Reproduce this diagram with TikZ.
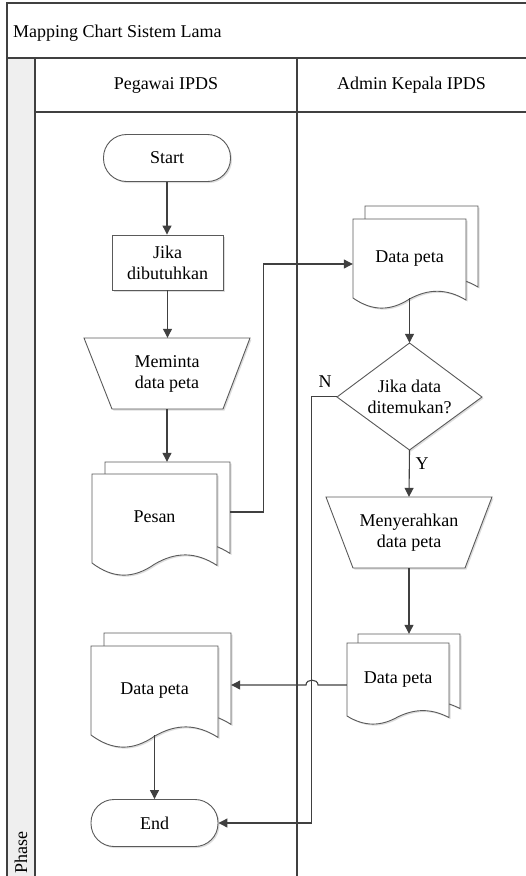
\documentclass[tikz,border=0pt]{standalone}
\usepackage{fontspec}
\setmainfont{Liberation Serif}
\usetikzlibrary{arrows.meta,shadows}
\definecolor{linec}{HTML}{404040}
\definecolor{shapec}{HTML}{5A5A5A}
\definecolor{phasec}{HTML}{EFEFEF}
% document shape path: x0, top, w, h, amplitude
\newcommand\docpath[5]{({#1},{#2+#4}) -- ({#1},{#2}) -- ({#1+#3},{#2}) -- ({#1+#3},{#2+#4+0.2*#5}) .. controls ({#1+0.83*#3},{#2+#4-0.95*#5}) and ({#1+0.67*#3},{#2+#4-0.95*#5}) .. ({#1+0.5*#3},{#2+#4+0.1*#5}) .. controls ({#1+0.33*#3},{#2+#4+1.33*#5}) and ({#1+0.17*#3},{#2+#4+1.33*#5}) .. ({#1},{#2+#4}) -- cycle}
% name, x0, top, w, h, back shift x, back shift y, amplitude, text
\newcommand\docu[9]{%
  \path[shp] \docpath{#2+#6}{#3-#7}{#4}{#5}{#8};
  \path[shp] \docpath{#2}{#3}{#4}{#5}{#8};
  \node[anch, minimum width=#4pt, minimum height=#5pt] (#1b) at ({#2+#6+#4/2},{#3-#7+#5/2}) {};
  \node[anch, minimum width=#4pt, minimum height=#5pt] (#1) at ({#2+#4/2},{#3+#5/2}) {\raisebox{4pt}{#9}};
}
\begin{document}
\begin{tikzpicture}[x=1pt,y=-1pt,
  every node/.style={font=\fontsize{18}{21}\selectfont, text=black},
  frame/.style={draw=linec, line width=1.1pt},
  shp/.style={draw=shapec, fill=white, line width=0.9pt,
    drop shadow={shadow xshift=1.5pt, shadow yshift=-1.5pt, opacity=.22, fill=black!60}},
  anch/.style={draw=none, inner sep=0pt, align=center},
  termbox/.style={shp, rounded corners=23pt, minimum width=127pt, minimum height=47pt, inner sep=0pt},
  procbox/.style={shp, rounded corners=0pt, minimum width=111pt, minimum height=55pt, inner sep=0pt, align=center},
  conn/.style={draw=linec, line width=1.1pt},
  arr/.style={conn, -{Triangle[length=9pt,width=9pt]}},
  lbl/.style={inner sep=0pt}
]
\useasboundingbox (0,0) rectangle (526,876);
% ---- frame / swimlanes ----
\fill[phasec] (7,58) rectangle (35,876);
\draw[frame] (7,876) -- (7,3) -- (526,3);
\draw[frame] (7,58) -- (526,58);
\draw[frame] (35,58) -- (35,876);
\draw[frame] (35,112) -- (526,112);
\draw[frame] (297,58) -- (297,876);
\node[lbl, anchor=base west] (title) at (13,37) {Mapping Chart Sistem Lama};
\node[lbl] (lane1) at (166,85) {Pegawai IPDS};
\node[lbl] (lane2) at (411.5,85) {Admin Kepala IPDS};
\node[lbl, rotate=90] (phase) at (21,852) {Phase};
% ---- left lane ----
\node[termbox] (start) at (167,158) {Start};
\node[procbox] (jika) at (167.5,262.5) {Jika\\dibutuhkan};
\path[shp] (84,338) -- (250,338) -- (223,409) -- (112,409) -- cycle;
\node[anch, minimum width=166pt, minimum height=71pt] (mem) at (167,373.5) {Meminta\\data peta};
\docu{pesan}{92}{474}{125}{89}{13}{12}{12}{Pesan}
\docu{dpl}{91}{646}{127}{89}{13}{13}{12}{Data peta}
\node[termbox] (end) at (154.5,823) {End};
% ---- right lane ----
\docu{dpt}{353}{219}{113}{79}{12}{13}{10}{Data peta}
\path[shp] (409.5,343) -- (482,397) -- (409.5,450) -- (337,397) -- cycle;
\node[anch, minimum width=145pt, minimum height=107pt] (dia) at (409.5,396.5) {Jika data\\ditemukan?};
\path[shp] (326,497) -- (492,497) -- (465,568) -- (353,568) -- cycle;
\node[anch, minimum width=166pt, minimum height=71pt] (meny) at (409,532.5) {Menyerahkan\\data peta};
\docu{dpr}{347}{643}{102}{73}{11}{9}{8}{Data peta}
% ---- connectors ----
\draw[arr] (start.south) -- (start.south |- jika.north);
\draw[arr] (jika.south) -- (jika.south |- mem.north);
\draw[arr] (mem.south) -- (mem.south |- pesanb.north);
\draw[arr] ([yshift=-5.5pt]pesanb.east) -- ++(33,0) |- ([yshift=-5.5pt]dpt.west);
\draw[arr] (dpt.south) -- (dia.north);
\draw[arr] (dia.south) -- (meny.north);
\draw[arr] (dia.west) -- ++(-25,0) |- (end.east);
\draw[arr] (meny.south) -- (meny.south |- dprb.north);
\draw[arr] ([yshift=-5.5pt]dpr.west) -- (318,685) .. controls (318,678.5) and (306,678.5) .. (306,685) -- ([yshift=-7.5pt]dplb.east);
\draw[arr] (dpl.south) -- (end.north);
\node[lbl] (nlab) at (325,382) {N};
\node[lbl] (ylab) at (422,464) {Y};
\end{tikzpicture}
\end{document}
